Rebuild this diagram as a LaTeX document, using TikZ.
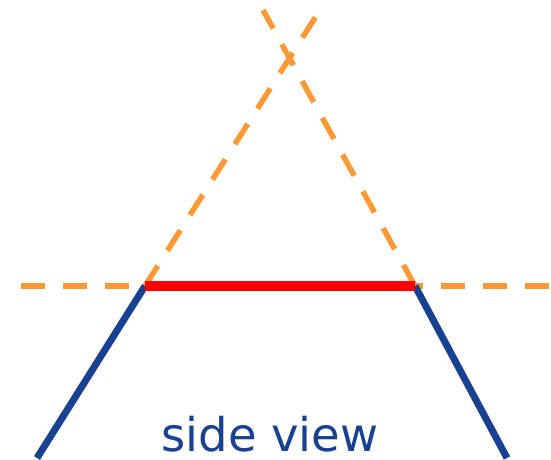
\documentclass[tikz,border=0pt]{standalone}
\usepackage{fontspec}
\setmainfont{DejaVu Sans}
\usepackage{xcolor}
\definecolor{edgeorange}{RGB}{255,153,51}
\definecolor{sideblue}{RGB}{25,65,145}

\begin{document}
\begin{tikzpicture}[
    x=1pt, y=-1pt,
    guide/.style={draw=edgeorange, line width=5.5pt, dash pattern=on 24pt off 18pt},
    wall/.style={draw=sideblue, line width=7pt},
    base/.style={draw=red, line width=10.5pt},
    caption/.style={text=sideblue, font=\fontsize{46.5}{50}\selectfont, inner sep=0pt, text depth=0pt, anchor=base},
]
\useasboundingbox (0,0) rectangle (551,460);
\coordinate (bl) at (145,286);
\coordinate (br) at (415,286);
\coordinate (hl) at (21,286);
\coordinate (hr) at (549,286);
\coordinate (tl) at (320,10);
\coordinate (tr) at (263,10);
\coordinate (fl) at (37,458);
\coordinate (fr) at (507,458);
% extended edges
\draw[guide] (hl) -- (hr);
\draw[guide] (bl) -- (tl);
\draw[guide] (br) -- (tr);
% sides and top face
\draw[wall] (bl) -- (fl);
\draw[wall] (br) -- (fr);
\draw[base] (bl) -- (br);
\node[caption] (label) at (270,451) {side view};
\end{tikzpicture}
\end{document}
